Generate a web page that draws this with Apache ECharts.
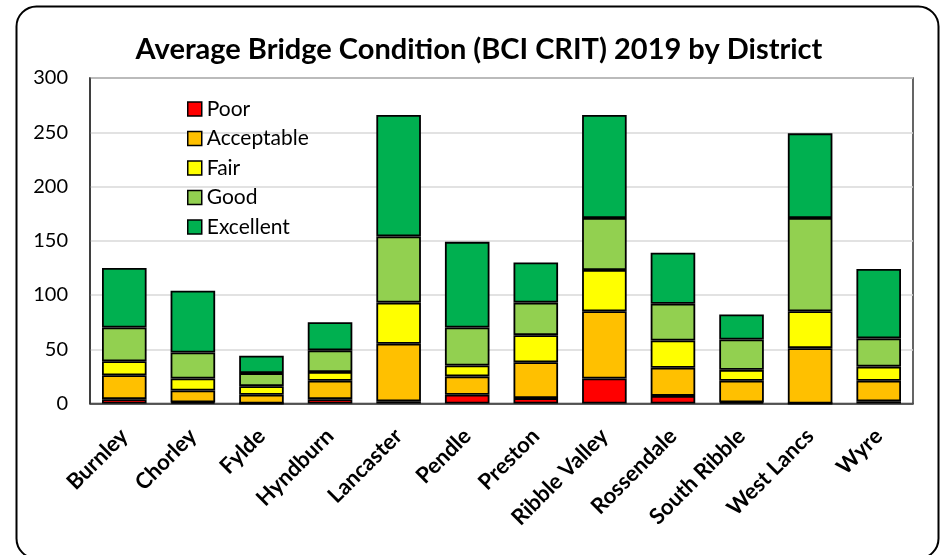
<!DOCTYPE html>
<html>
<head>
<meta charset="utf-8">
<script src="https://cdn.jsdelivr.net/npm/echarts@6/dist/echarts.min.js"></script>
<style>
  html, body { margin: 0; padding: 0; background: #fff; }
  #chart { width: 941px; height: 555px; }
</style>
</head>
<body>
<div id="chart"></div>
<script>
// Districts along the x axis
const districts = ['Burnley', 'Chorley', 'Fylde', 'Hyndburn', 'Lancaster', 'Pendle',
  'Preston', 'Ribble Valley', 'Rossendale', 'South Ribble', 'West Lancs', 'Wyre'];

// Number of bridges in each condition band, per district
const poor       = [4, 1, 0, 4, 2, 8, 5, 23, 7, 1, 0, 2];
const acceptable = [22, 11, 8, 17, 53, 17, 33, 62, 26, 20, 51, 19];
const fair       = [13, 11, 8, 8, 38, 10, 25, 38, 25, 10, 34, 13];
const good       = [31, 24, 12, 20, 61, 35, 30, 48, 34, 28, 86, 26];
const excellent  = [55, 57, 16, 26, 112, 79, 37, 95, 47, 23, 78, 64];

const yTicks = { min: 0, max: 300, interval: 50 };

const bands = [
  { name: 'Poor', data: poor, color: '#FF0000' },
  { name: 'Acceptable', data: acceptable, color: '#FFC000' },
  { name: 'Fair', data: fair, color: '#FFFF00' },
  { name: 'Good', data: good, color: '#92D050' },
  { name: 'Excellent', data: excellent, color: '#00B050' }
];

const FONT = 'Lato, "Open Sans", sans-serif';

const chart = echarts.init(document.getElementById('chart'), null, { renderer: 'canvas' });

chart.setOption({
  animation: false,
  backgroundColor: '#ffffff',
  title: {
    text: 'Average Bridge Condition (BCI CRIT) 2019 by District',
    left: 474,
    textAlign: 'center',
    top: 30,
    textStyle: { fontFamily: FONT, fontWeight: 'bold', fontSize: 29, color: '#000' }
  },
  graphic: [{
    type: 'rect',
    z: -1,
    shape: { x: 16.5, y: 6.5, width: 922, height: 552, r: 20 },
    style: { fill: 'none', stroke: '#000', lineWidth: 2 }
  }],
  legend: {
    orient: 'vertical',
    left: 187,
    top: 98,
    padding: 0,
    itemWidth: 14,
    itemHeight: 14,
    itemGap: 7.5,
    icon: 'rect',
    textStyle: { fontFamily: FONT, fontSize: 21, color: '#000', lineHeight: 22 },
    itemStyle: { borderColor: '#000', borderWidth: 1.5 },
    data: bands.map(b => b.name)
  },
  grid: {
    left: 90, right: 28, top: 78, bottom: 151.5,
    show: true, borderColor: '#333', borderWidth: 1.5
  },
  xAxis: {
    type: 'category',
    data: districts,
    axisLine: { show: true, lineStyle: { color: '#333', width: 1.5 } },
    axisTick: { show: false },
    axisLabel: {
      rotate: 45, margin: 29, interval: 0,
      fontFamily: FONT, fontWeight: 'bold', fontSize: 22, color: '#000'
    }
  },
  yAxis: {
    type: 'value',
    min: yTicks.min, max: yTicks.max, interval: yTicks.interval,
    axisLine: { show: true, lineStyle: { color: '#333', width: 1.5 } },
    axisTick: { show: false },
    axisLabel: { margin: 22, fontFamily: FONT, fontSize: 20, color: '#000' },
    splitLine: { lineStyle: { color: '#d9d9d9', width: 1.5 } }
  },
  series: bands.map(b => ({
    name: b.name,
    type: 'bar',
    stack: 'total',
    barCategoryGap: '35%',
    data: b.data,
    itemStyle: { color: b.color, borderColor: '#000', borderWidth: 1.8 }
  }))
});
</script>
</body>
</html>
